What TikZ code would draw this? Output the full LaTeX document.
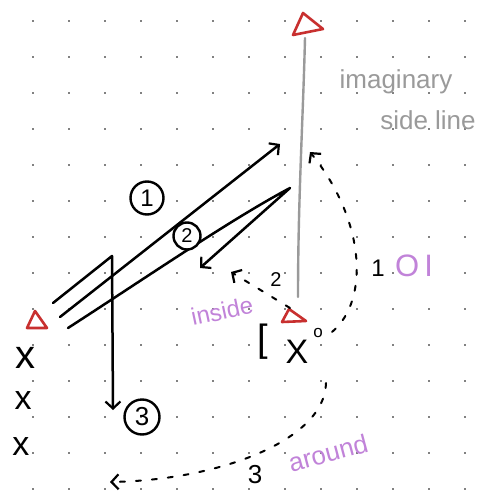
\documentclass[tikz,border=0pt]{standalone}
\usepackage{fontspec}
\setmainfont{Liberation Sans}
\usetikzlibrary{arrows.meta}
\definecolor{redtri}{HTML}{C8302F}
\definecolor{sidegray}{HTML}{9A9A9A}
\definecolor{lav}{HTML}{C183D9}
\begin{document}
\begin{tikzpicture}[x=1pt,y=-1pt,
  ink/.style={line width=2.5pt,line cap=round,line join=round},
  barb/.style={-{Straight Barb[length=7pt,width=15pt,line width=2.2pt]}},
  dashy/.style={line width=2pt,line cap=round,dash pattern=on 5pt off 11pt},
  tri/.style={draw=redtri,line width=2.6pt,line join=round},
  num/.style={font=\fontsize{24}{24}\selectfont,inner sep=0pt},
  ring/.style={circle,draw,line width=2.4pt,inner sep=0pt,font=\fontsize{24}{24}\selectfont},
  lavtext/.style={text=lav,inner sep=0pt},
  graytext/.style={text=sidegray,inner sep=0pt,font=\fontsize{26}{26}\selectfont},
  xmark/.style={inner sep=0pt,font=\fontsize{34}{34}\selectfont}]
\useasboundingbox (0,0) rectangle (489,492);
\fill[white] (0,0) rectangle (489,492);
% dot grid
\foreach \i in {0,...,12}{\foreach \j in {0,...,13}{\fill (33+36*\i,21+36*\j) circle (0.9);}}
% imaginary side line
\coordinate (lineTop) at (305,38);
\coordinate (lineBot) at (298,297);
\draw[sidegray,line width=2.4pt,line cap=round] (lineTop) .. controls (303,120) and (298,200) .. (lineBot);
\node[graytext] (imag) at (396,82) {imaginary};
\node[graytext] (side) at (428,120) {side line};
% triangles (cones)
\draw[tri] (293,35) -- (303,13) -- (323,29) -- cycle;
\draw[tri] (27,328) -- (35,311) -- (47,328) -- cycle;
\draw[tri] (282,322) -- (289,309) -- (306,321) -- cycle;
% route 3
\coordinate (r3a) at (53,303);
\coordinate (r3b) at (112,256);
\coordinate (r3c) at (113,410);
\draw[ink,barb] (r3a) -- (r3b) -- (r3c);
% route 1
\coordinate (r1a) at (60,317);
\coordinate (r1b) at (280,144);
\draw[ink,barb] (r1a) -- (r1b);
% route 2
\coordinate (r2a) at (68,328);
\coordinate (r2b) at (290,188);
\coordinate (r2c) at (200,268);
\draw[ink,barb] (r2a) .. controls (150,275) and (230,220) .. (r2b) -- (r2c);
% circled numbers
\node[ring,minimum size=33pt,fill=white] (c1) at (147,198) {1};
\node[ring,minimum size=27pt,fill=white,font=\fontsize{20}{20}\selectfont] (c2) at (187,236) {2};
\node[ring,minimum size=35pt,font=\fontsize{26}{26}\selectfont] (c3) at (142,417) {3};
% formation
\node[inner sep=0pt,font=\fontsize{38}{38}\selectfont] (brk) at (263,342) {[};
\node[inner sep=0pt,font=\fontsize{34}{34}\selectfont] (bigx) at (297,352) {X};
\node[inner sep=0pt,font=\fontsize{17}{17}\selectfont] (oo) at (318,333) {o};
\node[xmark,font=\fontsize{40}{40}\selectfont] (x1) at (25,358) {x};
\node[xmark] (x2) at (23,401) {x};
\node[xmark] (x3) at (21,447) {x};
% dashed routes
\coordinate (d1s) at (332,332);
\coordinate (d1e) at (310,152);
\draw[dashy,barb] (d1s) .. controls (370,300) and (365,220) .. (d1e);
\node[num] (l1) at (378,268) {1};
\coordinate (d2s) at (290,308);
\coordinate (d2e) at (231,272);
\draw[dashy,barb] (d2s) -- (d2e);
\node[num,font=\fontsize{20}{20}\selectfont] (l2) at (276,280) {2};
\coordinate (d3s) at (326,383);
\coordinate (d3e) at (110,482);
\draw[dashy,barb] (d3s) .. controls (325,440) and (220,480) .. (d3e);
\node[num,font=\fontsize{26}{26}\selectfont] (l3) at (255,475) {3};
% lavender labels
\node[lavtext,rotate=12,font=\fontsize{24}{24}\selectfont] (inside) at (222,311) {inside};
\node[lavtext,font=\fontsize{31}{31}\selectfont] (oi) at (414,266) {O\hspace{5pt}I};
\node[lavtext,rotate=15,font=\fontsize{26}{26}\selectfont] (around) at (328,453) {around};
\end{tikzpicture}
\end{document}
